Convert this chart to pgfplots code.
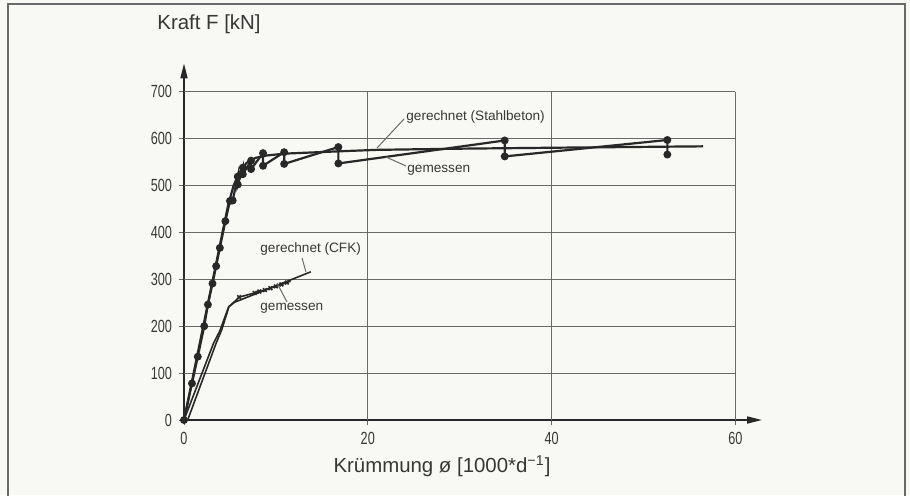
\documentclass[border=0pt]{standalone}
\usepackage{fontspec}
\setmainfont{Liberation Sans}
\newfontfamily\tickfont[FakeStretch=0.72]{Liberation Sans}
\usepackage{pgfplots}
\pgfplotsset{compat=1.18}
\usetikzlibrary{arrows.meta}
\definecolor{bg}{RGB}{248,248,244}
\definecolor{ink}{RGB}{40,40,40}
\definecolor{gridc}{RGB}{105,105,105}
\definecolor{txt}{RGB}{55,55,55}
\begin{document}
\begin{tikzpicture}
\begin{scope}[x=0.5pt,y=-0.5pt]
\fill[bg] (0,0) rectangle (910,495);
\useasboundingbox (0,0) rectangle (910,495);
\draw[gridc, line width=0.6pt] (8,496) -- (8,4) -- (905,4) -- (905,496);
\end{scope}
\begin{axis}[at={(92pt,-210pt)}, anchor=south west, scale only axis,
 width=289pt, height=178.35pt,
 xmin=0, xmax=62.9, ymin=0, ymax=760.5,
 axis lines=left,
 axis line style={ink, line width=0.8pt, -{Triangle[length=7.5pt,width=3.5pt]}},
 xtick={0,20,40,60}, ytick={0,100,...,700},
 tick align=outside, major tick length=2.5pt,
 tick style={gridc, line width=0.5pt},
 ticklabel style={font=\tickfont\fontsize{8.8}{10}\selectfont, text=txt},
 /pgf/number format/assume math mode=true,
 clip=false]
% grid
\foreach \xx in {20,40,60} {\edef\tmp{\noexpand\draw[gridc, line width=0.5pt] (axis cs:\xx,0) -- (axis cs:\xx,700);}\tmp}
\foreach \yy in {100,200,...,700} {\edef\tmp{\noexpand\draw[gridc, line width=0.5pt] (axis cs:0,\yy) -- (axis cs:60,\yy);}\tmp}
% Stahlbeton gerechnet
\addplot[ink, line width=1.1pt, no marks] coordinates {
(0,0) (4.8,458) (5.4,500) (6.0,527) (6.8,548) (7.8,559) (9,564) (11,568) (17,573) (21,576) (30,578.5) (40,580.5) (56.5,583.5)};
% Stahlbeton gemessen
\addplot[ink, line width=1.1pt, mark=*, mark size=1.4pt, mark options={fill=ink}] coordinates {
(0,0) (0.87,78) (1.5,135) (2.2,200) (2.6,246) (3.1,291) (3.5,328) (3.9,367) (4.5,424) (5.0,467) (5.3,468) (5.85,519) (5.85,502) (6.4,538) (6.4,524) (7.3,553) (7.3,535) (8.6,569) (8.6,542) (10.9,571) (10.9,546) (16.8,582) (16.8,547) (34.9,596) (34.9,562) (52.6,597) (52.6,566)};
% CFK gerechnet
\addplot[ink, line width=0.8pt, no marks] coordinates {
(0,0) (3.2,163) (3.9,190) (4.85,241) (5.5,251) (13.8,316)};
% CFK gemessen
\addplot[ink, line width=0.8pt, mark=x, mark size=1.3pt, mark indices={6,7,8,9,10,11,12,13}] coordinates {
(0.4,0) (3.5,164) (4.1,192) (4.9,242) (5.7,256) (6.0,262) (7.7,271) (8.2,274) (8.8,277) (9.4,281) (10.0,285) (10.6,289) (11.2,293) (11.6,296)};
\end{axis}
\begin{scope}[x=0.5pt,y=-0.5pt]
% labels
\node[text=txt, font=\fontsize{10.2}{12}\selectfont] at (209,24) {Kraft F [kN]};
\node[text=txt, font=\fontsize{10.2}{12}\selectfont] at (442,466) {Krümmung ø [1000*d\textsuperscript{−1}]};
% annotations
\begin{scope}[font=\fontsize{6.8}{8}\selectfont]
\node[text=txt, anchor=west, inner sep=0pt] at (406,117) {gerechnet (Stahlbeton)};
\node[text=txt, anchor=west, inner sep=0pt] at (407,170) {gemessen};
\node[text=txt, anchor=west, inner sep=0pt] at (260,249) {gerechnet (CFK)};
\node[text=txt, anchor=west, inner sep=0pt] at (260,308) {gemessen};
\end{scope}
\draw[gridc, line width=0.5pt] (404,119) -- (377,148);
\draw[gridc, line width=0.5pt] (406,166) -- (386,157);
\draw[gridc, line width=0.5pt] (302,258) -- (306,272);
\draw[gridc, line width=0.5pt] (287,302) -- (277,283);
\end{scope}
\end{tikzpicture}
\end{document}
